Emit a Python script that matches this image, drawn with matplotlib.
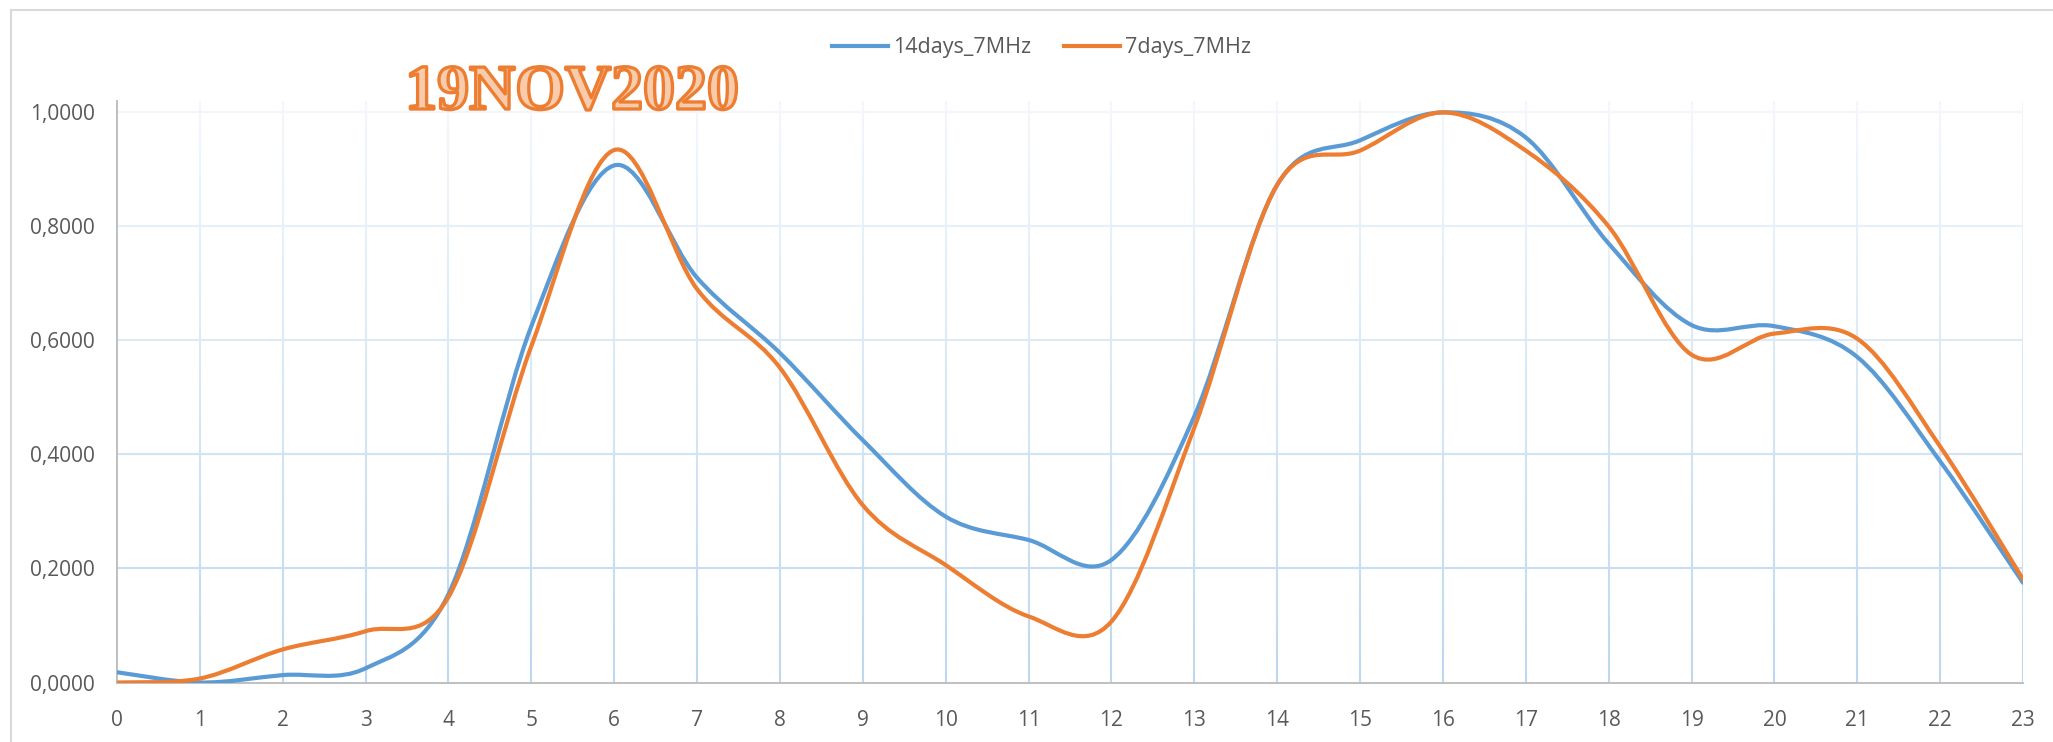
import numpy as np
import matplotlib
matplotlib.use("Agg")
import matplotlib.pyplot as plt
from matplotlib.path import Path
from matplotlib.patches import PathPatch
from matplotlib.collections import LineCollection
from matplotlib.lines import Line2D
import matplotlib.patheffects as pe
from matplotlib.ticker import FuncFormatter
from matplotlib.colors import to_rgb

# ---- data ----
hours = list(range(24))
series_names = ["14days_7MHz", "7days_7MHz"]
days14 = [0.018, 0.000, 0.013, 0.025, 0.155, 0.625, 0.907, 0.710, 0.578, 0.425,
          0.291, 0.250, 0.215, 0.467, 0.873, 0.951, 1.000, 0.956, 0.770, 0.627,
          0.625, 0.571, 0.388, 0.175]
days7 = [0.000, 0.007, 0.058, 0.090, 0.150, 0.590, 0.934, 0.690, 0.552, 0.311,
         0.206, 0.116, 0.107, 0.447, 0.873, 0.933, 1.000, 0.933, 0.800, 0.575,
         0.612, 0.603, 0.414, 0.181]
title_text = "19NOV2020"
y_ticks = [0.0, 0.2, 0.4, 0.6, 0.8, 1.0]

BLUE = "#5B9BD5"
ORANGE = "#ED7D31"

plt.rcParams['font.family'] = ['Open Sans', 'DejaVu Sans']

W, H = 2053, 742
fig = plt.figure(figsize=(W / 100, H / 100), dpi=100)
fig.patch.set_facecolor("white")

left, right = 117 / W, 2023 / W
bottom, top = 1 - 682.5 / H, 1 - 101 / H
ax = fig.add_axes([left, bottom, right - left, top - bottom])
ax.set_xlim(0, 23)
ax.set_ylim(0, 1.02)


def smooth_path(x, y):
    pts = np.column_stack([x, y]).astype(float)
    n = len(pts)
    verts = [pts[0]]
    codes = [Path.MOVETO]
    for i in range(n - 1):
        p0 = pts[i - 1] if i > 0 else pts[i]
        p1 = pts[i]
        p2 = pts[i + 1]
        p3 = pts[i + 2] if i + 2 < n else pts[i + 1]
        c1 = p1 + (p2 - p0) / 6.0
        c2 = p2 - (p3 - p1) / 6.0
        verts += [c1, c2, p2]
        codes += [Path.CURVE4] * 3
    return Path(verts, codes)


# gradient gridlines
c_bot = np.array(to_rgb("#BDD7EE"))
c_top = np.array(to_rgb("#F3F7FC"))


def grad_color(frac):
    return tuple(c_bot + (c_top - c_bot) * frac)


ymax = 1.02
segs, cols = [], []
nseg = 60
ys = np.linspace(0, ymax, nseg + 1)
for xv in hours[1:]:
    for k in range(nseg):
        segs.append([(xv, ys[k]), (xv, ys[k + 1])])
        cols.append(grad_color((ys[k] + ys[k + 1]) / 2 / ymax))
ax.add_collection(LineCollection(segs, colors=cols, linewidths=1.5, zorder=0.5))
for yv in y_ticks[1:]:
    ax.axhline(yv, color=grad_color(yv / ymax), lw=1.5, zorder=0.5)

# series
for vals, col in [(days14, BLUE), (days7, ORANGE)]:
    patch = PathPatch(smooth_path(hours, vals), fill=False, edgecolor=col,
                      lw=3.0, capstyle='round', joinstyle='round', zorder=3)
    ax.add_patch(patch)

# axes styling
for s in ["top", "right"]:
    ax.spines[s].set_visible(False)
for s in ["left", "bottom"]:
    ax.spines[s].set_color("#BFBFBF")
    ax.spines[s].set_linewidth(1.4)
ax.spines["left"].set_zorder(1)
ax.set_xticks(hours)
ax.set_yticks(y_ticks)
ax.yaxis.set_major_formatter(FuncFormatter(lambda v, p: f"{v:.4f}".replace(".", ",")))
ax.tick_params(axis="both", length=0, labelsize=15, labelcolor="#595959")
ax.tick_params(axis="x", pad=20)
ax.tick_params(axis="y", pad=16)

# legend
handles = [Line2D([], [], color=BLUE, lw=3), Line2D([], [], color=ORANGE, lw=3)]
fig.legend(handles, series_names, loc="center", bbox_to_anchor=(1041.5 / W, 1 - 48 / H),
           ncol=2, frameon=False, fontsize=15.5, handlelength=2.6,
           handletextpad=0.25, columnspacing=1.5, labelcolor="#595959")

# title
fig.text(572 / W, 1 - 94 / H, title_text, ha="center", va="center",
         fontsize=46, fontweight="bold", family=["Liberation Serif", "DejaVu Serif"],
         color="#F8CBAD",
         path_effects=[pe.Stroke(linewidth=2.4, foreground=ORANGE)])

# outer chart border
fig.add_artist(Line2D([11 / W, 11 / W], [0, 1 - 10 / H], transform=fig.transFigure,
                      color="#D9D9D9", lw=1.5))
fig.add_artist(Line2D([11 / W, 1], [1 - 10 / H, 1 - 10 / H], transform=fig.transFigure,
                      color="#D9D9D9", lw=1.5))

fig.savefig("out.png", dpi=100, facecolor="white")
